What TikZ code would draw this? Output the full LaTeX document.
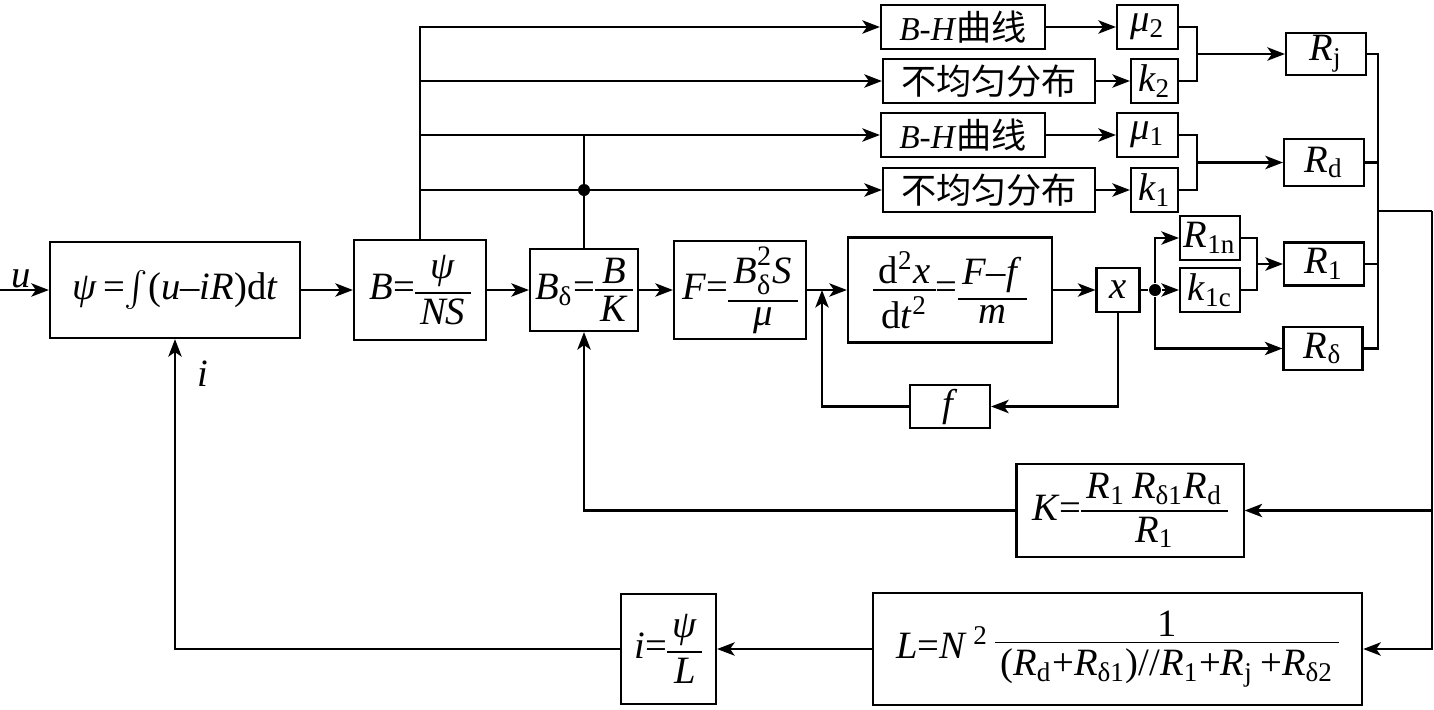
\documentclass[tikz,border=0pt]{standalone}
\usepackage{fontspec}
\setmainfont{Liberation Serif}
\newfontfamily\cjk{Noto Sans CJK SC}
\usepackage{tikz}
\usetikzlibrary{arrows.meta,positioning}
\newcommand{\fr}[2]{$\vcenter{\offinterlineskip\halign{\hfil\kern1.5pt##\kern1.5pt\hfil\cr#1\cr\noalign{\kern1.5pt\hrule height0.5pt\kern1.5pt}#2\cr}}$}
\newcommand{\sbsp}[2]{$^{\mbox{\fontsize{8}{9}\selectfont\raisebox{1.3pt}{#1}}}_{\mbox{\fontsize{8}{9}\selectfont#2}}$}
\tikzset{>={Stealth[length=5pt, width=3.8pt, inset=1.3pt]},
         blk/.style={draw, inner sep=0pt},
         dot/.style={circle, fill, inner sep=0pt, minimum size=0.12cm},
         zh/.style={font=\cjk\fontsize{10}{12}\selectfont}}

\begin{document}
\begin{tikzpicture}[x=0.01cm, y=-0.01cm, line width=0.6pt, font=\fontsize{11}{13}\selectfont]
	\useasboundingbox (0,0) rectangle (1434,709);

	\node[blk, minimum width=2.5cm, minimum height=0.96cm] (psi) at (175,290)
	    {\textit{ψ}\,=$\int$(\textit{u}--\textit{iR})d\textit{t}};
	\node[blk, minimum width=1.32cm, minimum height=1cm] (B) at (420,290)
	    {\textit{B}=\fr{\textit{ψ}}{\textit{NS}}};
	\node[blk, minimum width=1.08cm, minimum height=0.82cm] (Bd) at (584,290)
	    {\textit{B}\textsubscript{δ}=\fr{\textit{B}}{\textit{K}}};
	\node[blk, minimum width=1.32cm, minimum height=0.98cm] (F) at (740,290)
	    {\textit{F}=\fr{\textit{B}\sbsp{2}{δ}\textit{S}\rule[-3pt]{0pt}{0pt}}{\textit{μ}}};
	\node[blk, minimum width=2.04cm, minimum height=1.05cm] (acc) at (950,290)
	    {\fr{d\textsuperscript{2}\textit{x}}{d\textit{t}\textsuperscript{2}}=\fr{\textit{F}--\textit{f}}{\textit{m}}};
	\node[blk, minimum width=0.43cm, minimum height=0.44cm] (xb) at (1118,290) {\textit{x}};
	\node[dot] (jx) at (1155,290) {};
	\node[blk, minimum width=0.6cm, minimum height=0.44cm] (r1n) at (1210,238) {\textit{R}\textsubscript{1n}};
	\node[blk, minimum width=0.6cm, minimum height=0.44cm] (k1c) at (1210,290) {\textit{k}\textsubscript{1c}};
	\node[blk, minimum width=0.8cm, minimum height=0.43cm] (r1) at (1324,264) {\textit{R}\textsubscript{1}};
	\node[blk, minimum width=0.79cm, minimum height=0.43cm] (rdl) at (1323,348.5) {\textit{R}\textsubscript{δ}};
	\node[blk, minimum width=0.8cm, minimum height=0.42cm] (rj) at (1326,54) {\textit{R}\textsubscript{j}};
	\node[blk, minimum width=0.8cm, minimum height=0.47cm] (rd) at (1324,162.5) {\textit{R}\textsubscript{d}};

	\node[blk, minimum width=1.64cm, minimum height=0.44cm] (bh2) at (963,27)
	    {{\fontsize{9.5}{11}\selectfont\textit{B}-\textit{H}}{\cjk\fontsize{10}{12}\selectfont 曲线}};
	\node[blk, zh, minimum width=2.12cm, minimum height=0.44cm] (nu2) at (989,81) {不均匀分布};
	\node[blk, minimum width=1.64cm, minimum height=0.44cm] (bh1) at (963,135)
	    {{\fontsize{9.5}{11}\selectfont\textit{B}-\textit{H}}{\cjk\fontsize{10}{12}\selectfont 曲线}};
	\node[blk, zh, minimum width=2.12cm, minimum height=0.44cm] (nu1) at (989,190) {不均匀分布};
	\node[blk, minimum width=0.61cm, minimum height=0.44cm] (mu2) at (1147.5,27) {\textit{μ}\textsubscript{2}};
	\node[blk, minimum width=0.47cm, minimum height=0.44cm] (k2) at (1154.5,81) {\textit{k}\textsubscript{2}};
	\node[blk, minimum width=0.61cm, minimum height=0.44cm] (mu1) at (1147.5,135) {\textit{μ}\textsubscript{1}};
	\node[blk, minimum width=0.47cm, minimum height=0.44cm] (k1) at (1154.5,190) {\textit{k}\textsubscript{1}};

	\node[blk, minimum width=0.8cm, minimum height=0.43cm] (f) at (950,406.5) {\textit{f}};
	\node[blk, minimum width=2.27cm, minimum height=0.93cm] (K) at (1130,510.5)
	    {\textit{K}=\fr{\textit{R}\textsubscript{1}\,\textit{R}\textsubscript{δ1}\textit{R}\textsubscript{d}}{\textit{R}\textsubscript{1}}};
	\node[blk, minimum width=4.89cm, minimum height=1.12cm] (L) at (1117.5,649)
	    {\textit{L}=\textit{N}\,\textsuperscript{2}\,\fr{1}{(\textit{R}\textsubscript{d}+\textit{R}\textsubscript{δ1})//\textit{R}\textsubscript{1}+\textit{R}\textsubscript{j}\,+\textit{R}\textsubscript{δ2}}};
	\node[blk, minimum width=0.95cm, minimum height=1.1cm] (ib) at (668.5,649)
	    {\textit{i}=\fr{\textit{ψ}}{\textit{L}}};

	\node (ulab) at (21,279) {\textit{u}};
	\node (ilab) at (203,374) {\textit{i}};
	\coordinate (uin) at (0,290);
	\coordinate (fin) at (822,290);
	\coordinate (m1) at (1257,264);
	\coordinate (m2) at (1197,54);
	\coordinate (m3) at (1197,162.5);
	\coordinate (bx) at (1378,211);
	\coordinate (br) at (1432,211);
	\node[dot] (jb) at (Bd |- nu1) {};

	\draw[->] (uin) -- (psi);
	\draw[->] (psi) -- (B);
	\draw[->] (B) -- (Bd);
	\draw[->] (Bd) -- (F);
	\draw[->] (F) -- (acc);
	\draw[->] (acc) -- (xb);
	\draw (xb) -- (jx);
	\draw[->] (jx) -- (k1c);
	\draw[->] (jx) |- (r1n);
	\draw[->] (jx) |- (rdl);
	\draw (r1n.east) -| (m1) |- (k1c.east);
	\draw[->] (m1) -- (r1);

	\draw[->] (B) |- (bh2);
	\draw[->] (B) |- (nu2);
	\draw[->] (B) |- (bh1);
	\draw[->] (B) |- (nu1);
	\draw (Bd) -- (Bd |- bh1);
	\draw[->] (bh2) -- (mu2);
	\draw[->] (nu2) -- (k2);
	\draw[->] (bh1) -- (mu1);
	\draw[->] (nu1) -- (k1);
	\draw (mu2.east) -| (m2) |- (k2.east);
	\draw[->] (m2) -- (rj);
	\draw (mu1.east) -| (m3) |- (k1.east);
	\draw[->] (m3) -- (rd);

	\draw (rj.east) -| (bx);
	\draw (rd.east) -| (bx);
	\draw (r1.east) -| (bx);
	\draw (rdl.east) -| (bx);
	\draw (bx) -- (br);
	\draw[->] (br) |- (K);
	\draw[->] (br) |- (L);
	\draw[->] (K) -| (Bd);
	\draw[->] (L) -- (ib);
	\draw[->] (ib) -| (psi);
	\draw[->] (xb) |- (f);
	\draw[->] (f) -| (fin);
\end{tikzpicture}
\end{document}
